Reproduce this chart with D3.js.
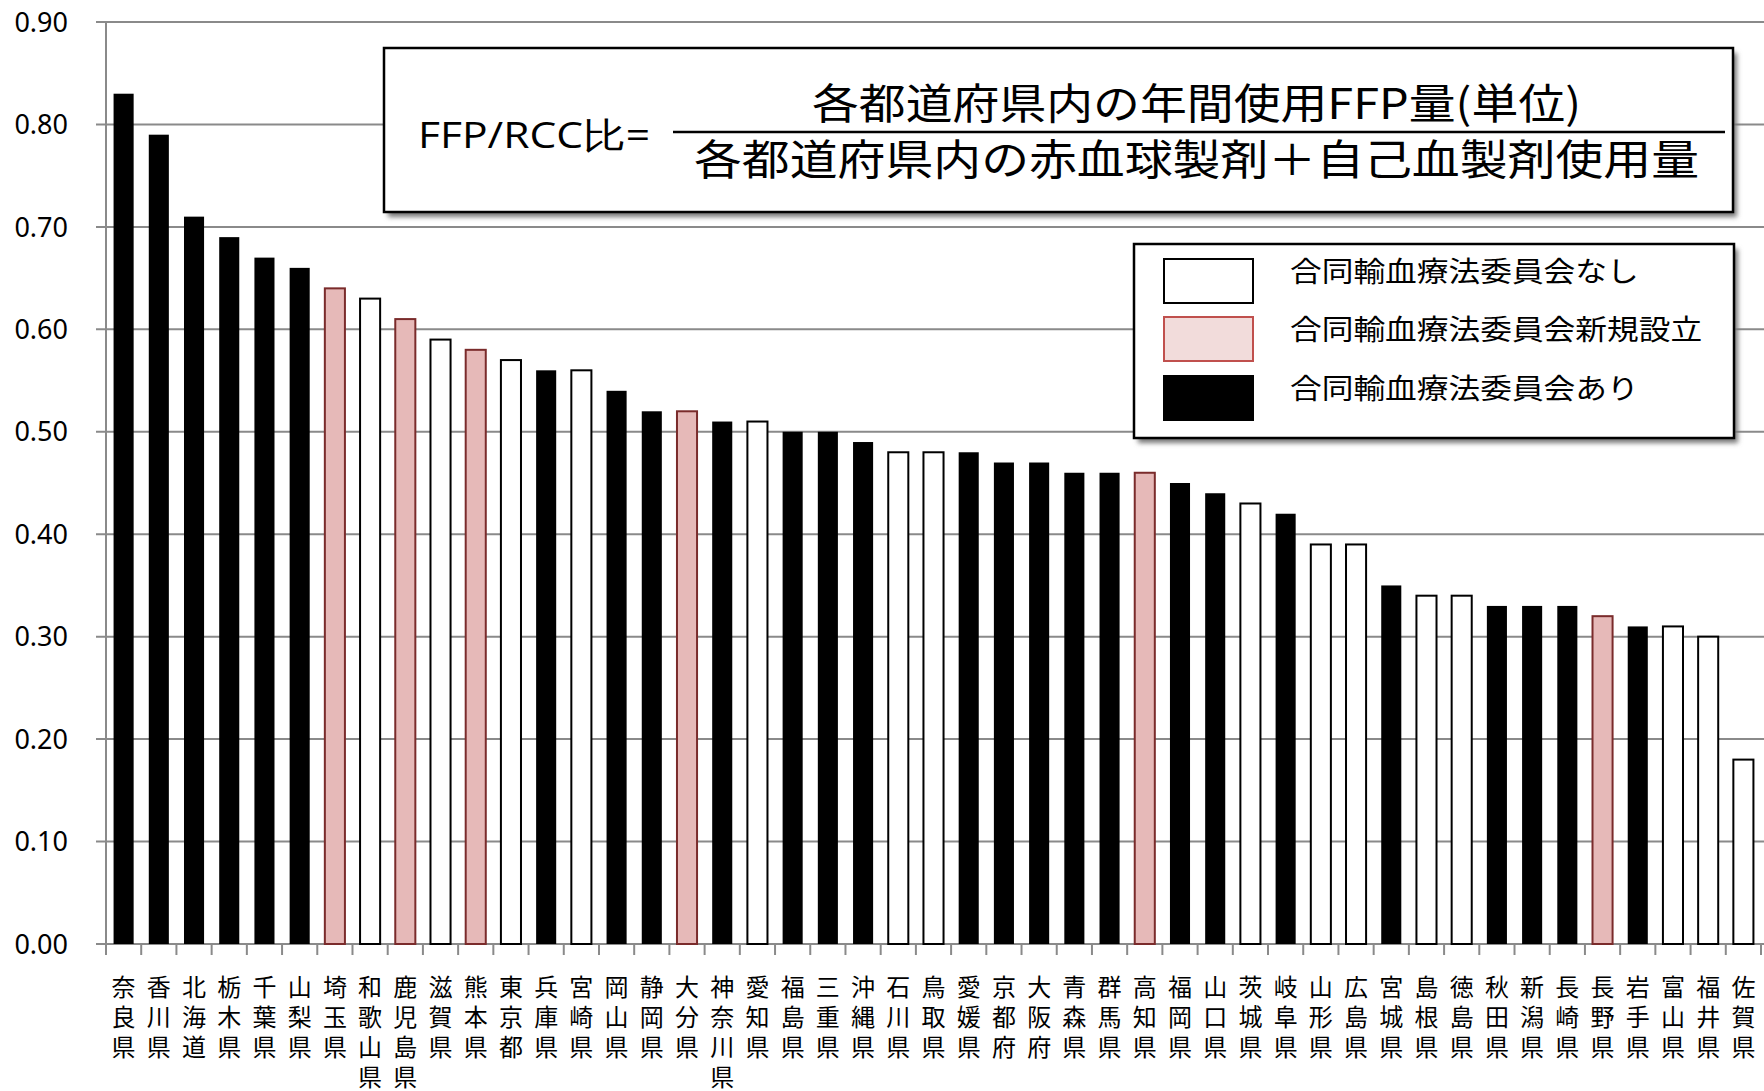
<!DOCTYPE html>
<html><head><meta charset="utf-8">
<script src="https://cdn.jsdelivr.net/npm/d3@7"></script>
<style>body{margin:0;background:#fff} svg{display:block}</style>
</head><body><svg id="c" width="1764" height="1091"></svg>
<script>
const prefectures = ["奈良県","香川県","北海道","栃木県","千葉県","山梨県","埼玉県","和歌山県","鹿児島県","滋賀県","熊本県","東京都","兵庫県","宮崎県","岡山県","静岡県","大分県","神奈川県","愛知県","福島県","三重県","沖縄県","石川県","鳥取県","愛媛県","京都府","大阪府","青森県","群馬県","高知県","福岡県","山口県","茨城県","岐阜県","山形県","広島県","宮城県","島根県","徳島県","秋田県","新潟県","長崎県","長野県","岩手県","富山県","福井県","佐賀県"];
const values = [0.83,0.79,0.71,0.69,0.67,0.66,0.64,0.63,0.61,0.59,0.58,0.57,0.56,0.56,0.54,0.52,0.52,0.51,0.51,0.50,0.50,0.49,0.48,0.48,0.48,0.47,0.47,0.46,0.46,0.46,0.45,0.44,0.43,0.42,0.39,0.39,0.35,0.34,0.34,0.33,0.33,0.33,0.32,0.31,0.31,0.30,0.18];
const groups = ["ari","ari","ari","ari","ari","ari","new","nashi","new","nashi","new","nashi","ari","nashi","ari","ari","new","ari","nashi","ari","ari","ari","nashi","nashi","ari","ari","ari","ari","ari","new","ari","ari","nashi","ari","nashi","nashi","ari","nashi","nashi","ari","ari","ari","new","ari","nashi","nashi","nashi"];
const yTicks = [0,0.1,0.2,0.3,0.4,0.5,0.6,0.7,0.8,0.9];
const legendKeys = ["nashi","new","ari"];
const legendLabels = ["合同輸血療法委員会なし","合同輸血療法委員会新規設立","合同輸血療法委員会あり"];
const formulaLeft = "FFP/RCC比=";
const formulaNum = "各都道府県内の年間使用FFP量(単位)";
const formulaDen = "各都道府県内の赤血球製剤＋自己血製剤使用量";

const svg = d3.select("#c");
const x = d3.scaleBand().domain(prefectures).range([106,1761]).paddingInner(0.43).paddingOuter(0.215);
const y = d3.scaleLinear().domain([0,0.9]).range([944,22]);
const barFill = {ari:"#000000", nashi:"#ffffff", new:"#e6b9b8"};
const barStroke = {ari:"#000000", nashi:"#000000", new:"#7a2b2b"};
const legFill = {ari:"#000000", nashi:"#ffffff", new:"#f2dcdb"};
const legStroke = {ari:"#000000", nashi:"#000000", new:"#c0504d"};
const grid = "#8a8a8a";

const defs = svg.append("defs");
const f = defs.append("filter").attr("id","sh").attr("x","-5%").attr("y","-10%").attr("width","115%").attr("height","130%");
f.append("feGaussianBlur").attr("stdDeviation",2.5);

// gridlines
svg.append("g").selectAll("line").data(yTicks).join("line")
  .attr("x1",96).attr("x2",1764).attr("y1",d=>y(d)).attr("y2",d=>y(d))
  .attr("stroke",grid).attr("stroke-width",2);
// y axis line
svg.append("line").attr("x1",106).attr("x2",106).attr("y1",y(0.9)).attr("y2",y(0)).attr("stroke",grid).attr("stroke-width",2);
// y tick labels
svg.append("g").selectAll("text").data(yTicks).join("text")
  .attr("x",68).attr("y",d=>y(d)).attr("dy","0.36em").attr("text-anchor","end")
  .attr("font-family","'Noto Sans',sans-serif").attr("font-size",27).attr("fill","#000")
  .text(d=>d3.format(".2f")(d));
// x ticks at band boundaries
const step = x.step();
const bounds = d3.range(prefectures.length+1).map(i=>106 + i*step);
svg.append("g").selectAll("line").data(bounds).join("line")
  .attr("x1",d=>d).attr("x2",d=>d).attr("y1",y(0)).attr("y2",y(0)+11)
  .attr("stroke",grid).attr("stroke-width",2);

// bars
const data = prefectures.map((p,i)=>({p, v:values[i], g:groups[i]}));
svg.append("g").selectAll("rect").data(data).join("rect")
  .attr("x",d=>x(d.p)).attr("width",x.bandwidth())
  .attr("y",d=>y(d.v)).attr("height",d=>y(0)-y(d.v))
  .attr("fill",d=>barFill[d.g]).attr("stroke",d=>barStroke[d.g])
  .attr("stroke-width",d=>d.g==="ari"?0:2);

// x labels (vertical stacked, one text per label)
const xl = svg.append("g").attr("font-family","'Noto Sans CJK JP',sans-serif").attr("font-size",24).attr("fill","#000");
data.forEach(d=>{
  const cx = x(d.p)+x.bandwidth()/2;
  const t = xl.append("text").attr("text-anchor","middle");
  Array.from(d.p).forEach((ch,k)=>{
    t.append("tspan").attr("x",cx).attr("y",987+k*30).attr("dy","0.36em").text(ch);
  });
});

// boxes with shadow
function box(x0,y0,w,h){
  svg.append("rect").attr("x",x0+4).attr("y",y0+5).attr("width",w).attr("height",h).attr("fill","#777").attr("filter","url(#sh)");
  svg.append("rect").attr("x",x0).attr("y",y0).attr("width",w).attr("height",h).attr("fill","#fff").attr("stroke","#000").attr("stroke-width",2.5);
}
box(384,48,1349,164);
svg.append("text").attr("x",418).attr("y",135).attr("dy","0.36em")
  .attr("font-family","'Open Sans','Noto Sans',sans-serif").attr("font-size",36)
  .attr("textLength",232).attr("lengthAdjust","spacingAndGlyphs").text(formulaLeft);
svg.append("line").attr("x1",673).attr("x2",1725).attr("y1",132).attr("y2",132).attr("stroke","#000").attr("stroke-width",2.5);
svg.append("text").attr("x",812).attr("y",104).attr("dy","0.36em")
  .attr("font-family","'Noto Sans CJK JP',sans-serif").attr("font-size",42)
  .attr("textLength",769).attr("lengthAdjust","spacingAndGlyphs").text(formulaNum);
svg.append("text").attr("x",694).attr("y",160).attr("dy","0.36em")
  .attr("font-family","'Noto Sans CJK JP',sans-serif").attr("font-size",42)
  .attr("textLength",1005).attr("lengthAdjust","spacingAndGlyphs").text(formulaDen);

// legend
box(1134,244,600,194);
const ly = [281,339,398];
legendKeys.forEach((k,i)=>{
  svg.append("rect").attr("x",1164).attr("y",ly[i]-22).attr("width",89).attr("height",44)
    .attr("fill",legFill[k]).attr("stroke",legStroke[k]).attr("stroke-width",2);
  svg.append("text").attr("x",1290).attr("y",ly[i]-9).attr("dy","0.36em")
    .attr("font-family","'Noto Sans CJK JP',sans-serif").attr("font-size",28)
    .attr("textLength",legendLabels[i].length*31.7).attr("lengthAdjust","spacingAndGlyphs")
    .text(legendLabels[i]);
});
</script></body></html>
